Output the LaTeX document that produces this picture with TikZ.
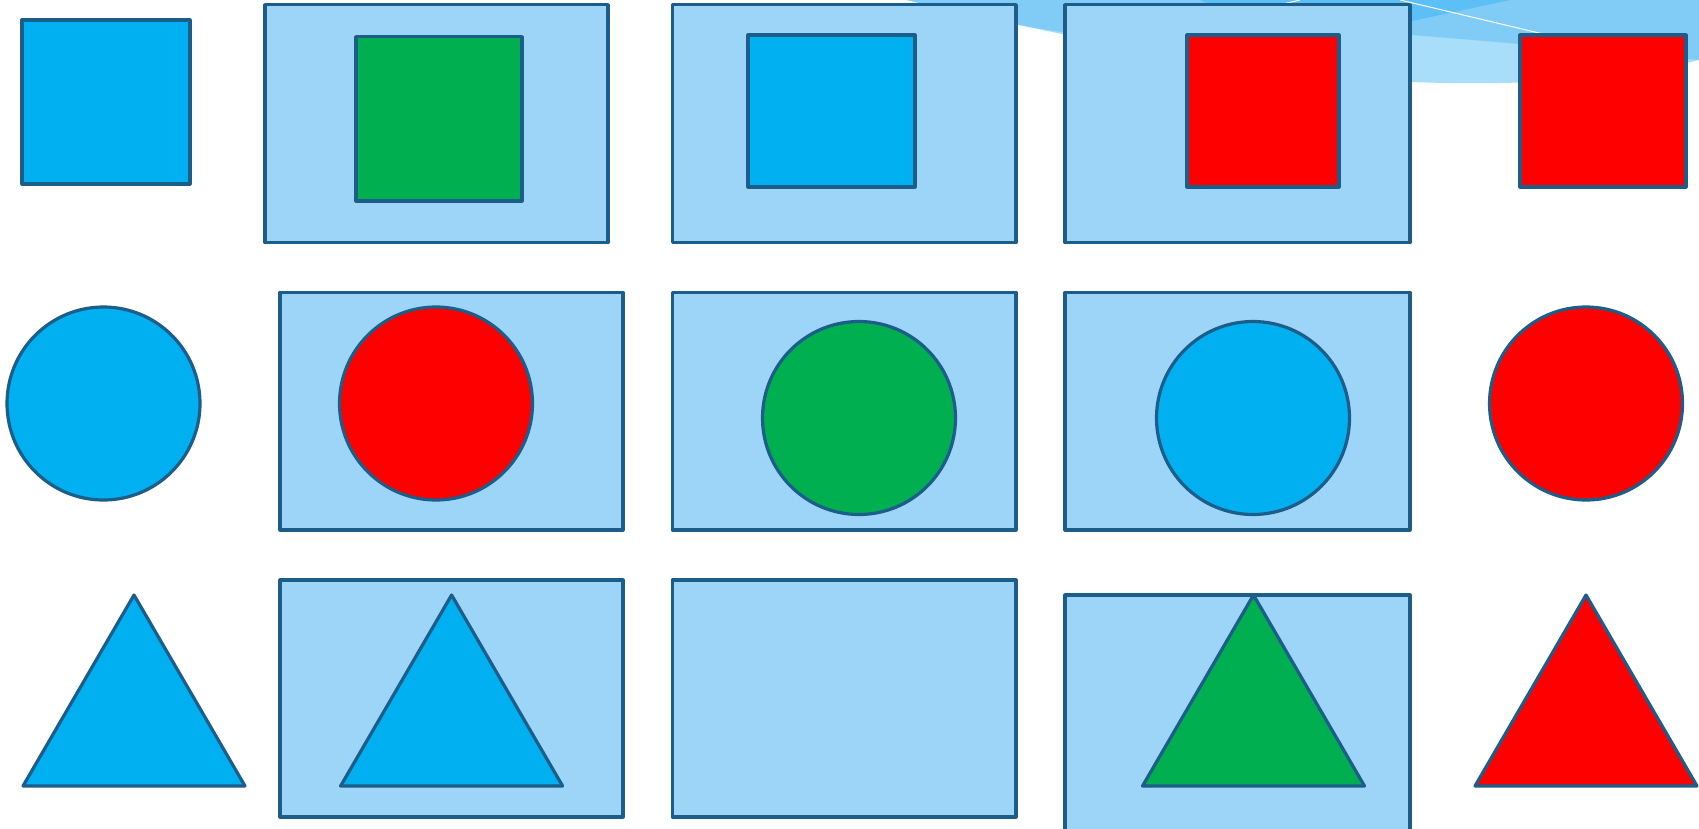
\documentclass[tikz,border=0pt]{standalone}
\usepackage{tikz}
\usepackage{xcolor}
\definecolor{edgeblue}{RGB}{28,93,138}
\definecolor{cardblue}{RGB}{157,213,248}
\definecolor{skyblue}{RGB}{0,176,240}
\definecolor{leafgreen}{RGB}{0,176,80}
\definecolor{purered}{RGB}{255,0,0}
\definecolor{swlight}{RGB}{168,222,250}
\definecolor{swmid}{RGB}{128,204,247}
\definecolor{swdark}{RGB}{92,191,245}

\begin{document}
\begin{tikzpicture}[x=1pt, y=-1pt, line width=3.2pt, line join=round,
  card/.style={draw=edgeblue, fill=cardblue},
  piece/.style={draw=edgeblue, fill=#1}]
\useasboundingbox (0,0) rectangle (1699,829);
% background swoosh (top right)
\fill[swlight] (907,0) .. controls (1150,55) and (1300,86) .. (1500,83) .. controls (1600,81) and (1650,72) .. (1699,60) -- (1699,0) -- cycle;
\fill[swmid] (907,0) .. controls (990,20) and (1040,30) .. (1070,33) -- (1411,35) .. controls (1550,46) and (1650,56) .. (1699,60) -- (1699,0) -- cycle;
\fill[swdark] (1200,0) -- (1510,0) -- (1300,45) -- cycle;
\draw[white, line width=1pt] (1400,0) -- (1560,38);
\draw[white, line width=1pt] (1300,0) -- (1240,14);
% cards
\foreach \xa/\xb in {265/608, 672.5/1016, 1065/1410} \draw[card] (\xa,4.7) rectangle (\xb,242.7);
\foreach \xa/\xb in {280/623, 672.5/1016, 1065/1410} \draw[card] (\xa,292.3) rectangle (\xb,530);
\draw[card] (280,580) rectangle (623,817);
\draw[card] (672.5,580) rectangle (1016,817);
\draw[card] (1065,595) rectangle (1410,840);
% row 1: squares
\draw[piece=skyblue] (22,20) rectangle (190,184);
\draw[piece=leafgreen] (356,36.7) rectangle (522,201);
\draw[piece=skyblue] (748,35) rectangle (915,187);
\draw[piece=purered] (1187,35) rectangle (1339,187);
\draw[piece=purered] (1520,35) rectangle (1686,187);
% row 2: circles
\foreach \cx/\cy/\col in {103.5/403.5/skyblue, 436/403.5/purered, 859/418/leafgreen, 1253/418/skyblue, 1586/403.5/purered}
  \draw[piece=\col] (\cx,\cy) circle (96.5pt);
% row 3: triangles
\foreach \cx/\col in {134/skyblue, 451.6/skyblue, 1253.5/leafgreen, 1586/purered}
  \draw[piece=\col] (\cx,595) -- (\cx+111,786) -- (\cx-111,786) -- cycle;
\end{tikzpicture}
\end{document}
